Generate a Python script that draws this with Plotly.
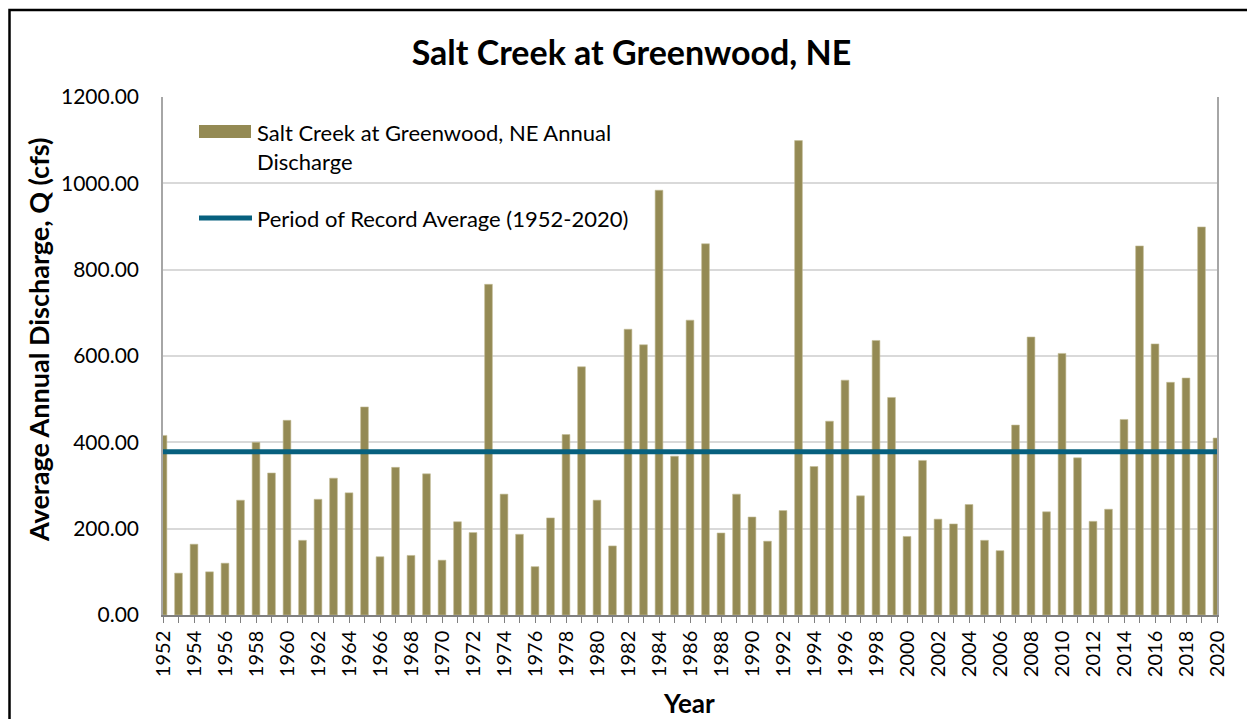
import plotly.graph_objects as go

years = list(range(1952, 2021))
discharge = [
    416, 97, 164, 100, 120, 266, 400, 329, 451, 173,
    268, 317, 283, 482, 135, 342, 138, 327, 127, 216,
    191, 766, 280, 187, 112, 225, 418, 575, 266, 160,
    662, 626, 984, 368, 683, 860, 190, 280, 227, 171,
    242, 1099, 344, 449, 544, 276, 636, 504, 182, 358,
    222, 211, 256, 173, 149, 440, 644, 239, 606, 364,
    217, 245, 453, 855, 628, 539, 549, 899, 410,
]
period_avg = 378.3
avg_x = [1952, 2020]
avg_y = [period_avg, period_avg]

bar_name_lines = ["Salt Creek at Greenwood, NE Annual", "Discharge"]
line_name = "Period of Record Average (1952-2020)"
title_text = "Salt Creek at Greenwood, NE"
x_title = "Year"
y_title = "Average Annual Discharge, Q (cfs)"

BAR_COLOR = "#948A54"
LINE_COLOR = "#07607E"
FONT = "Lato, 'Open Sans', sans-serif"

# plot area in page pixels (page has an 8px body margin)
PX0, PX1, PY0, PY1 = 163, 1217, 97, 615


def px(x):
    return (x - PX0) / (PX1 - PX0)


def py(y):
    return (PY1 - y) / (PY1 - PY0)


fig = go.Figure()
fig.add_trace(go.Bar(
    x=years, y=discharge, name=" ".join(bar_name_lines), width=0.5,
    marker=dict(color=BAR_COLOR, line=dict(color="#C4BD97", width=0.6)),
    showlegend=False,
))
fig.add_trace(go.Scatter(
    x=avg_x, y=avg_y, mode="lines", name=line_name,
    line=dict(color=LINE_COLOR, width=5), showlegend=False,
))

fig.update_layout(
    width=1247, height=711,
    margin=dict(l=155, r=38, t=89, b=104),
    paper_bgcolor="white", plot_bgcolor="white",
    font=dict(family=FONT, size=17, color="black"),
    title=dict(text=title_text, x=0.5, xref="container", y=0.937, yanchor="middle",
               font=dict(family=FONT, size=34, color="black", weight="bold")),
    showlegend=False,
)
fig.update_xaxes(
    range=[1952, 2020], tick0=1952, dtick=2, tickangle=-90,
    ticks="outside", ticklen=6, tickcolor="#808080", tickwidth=1,
    minor=dict(dtick=1, tick0=1952, ticks="outside", ticklen=6, tickcolor="#808080", tickwidth=1),
    showline=True, linecolor="#808080", linewidth=1.5, mirror=False,
    showgrid=False, zeroline=False,
    tickfont=dict(family=FONT, size=20, color="black", weight="normal"),
)
fig.update_yaxes(
    range=[0, 1200], dtick=200, tickformat=".2f",
    showgrid=True, gridcolor="#D9D9D9", gridwidth=1.5,
    showline=True, linecolor="#A6A6A6", linewidth=1.5, mirror=True,
    zeroline=False, ticks="", ticklabelstandoff=18,
    tickfont=dict(family=FONT, size=21, color="black", weight="normal"),
)

# axis titles (placed as in the reference, which is slightly off-centre)
fig.add_annotation(xref="paper", yref="paper", x=px(38), y=py(340), xanchor="center", yanchor="middle",
                   text=y_title, textangle=-90, showarrow=False,
                   font=dict(family=FONT, size=27, color="black", weight="bold"))
fig.add_annotation(xref="paper", yref="paper", x=px(689), y=py(703), xanchor="center", yanchor="middle",
                   text=x_title, showarrow=False,
                   font=dict(family=FONT, size=26, color="black", weight="bold"))

# legend (drawn manually to match the wide Excel legend keys)
fig.add_shape(type="rect", xref="paper", yref="paper",
              x0=px(199), x1=px(251), y0=py(138), y1=py(125),
              line=dict(width=0), fillcolor=BAR_COLOR)
fig.add_shape(type="line", xref="paper", yref="paper",
              x0=px(199), x1=px(252), y0=py(218), y1=py(218),
              line=dict(color=LINE_COLOR, width=5))
fig.add_annotation(xref="paper", yref="paper", x=px(255), y=py(133), xanchor="left", yanchor="middle",
                   text=bar_name_lines[0], showarrow=False,
                   font=dict(family=FONT, size=22, color="black"))
fig.add_annotation(xref="paper", yref="paper", x=px(255), y=py(161), xanchor="left", yanchor="middle",
                   text=bar_name_lines[1], showarrow=False,
                   font=dict(family=FONT, size=22, color="black"))
fig.add_annotation(xref="paper", yref="paper", x=px(255), y=py(218), xanchor="left", yanchor="middle",
                   text=line_name, showarrow=False,
                   font=dict(family=FONT, size=22, color="black"))

# outer chart border
fig.add_shape(type="rect", xref="paper", yref="paper",
              x0=px(9.5), x1=px(1250), y0=-0.4, y1=py(10),
              line=dict(color="black", width=2.5), fillcolor="rgba(0,0,0,0)", layer="below")

fig.write_html("out.html")
